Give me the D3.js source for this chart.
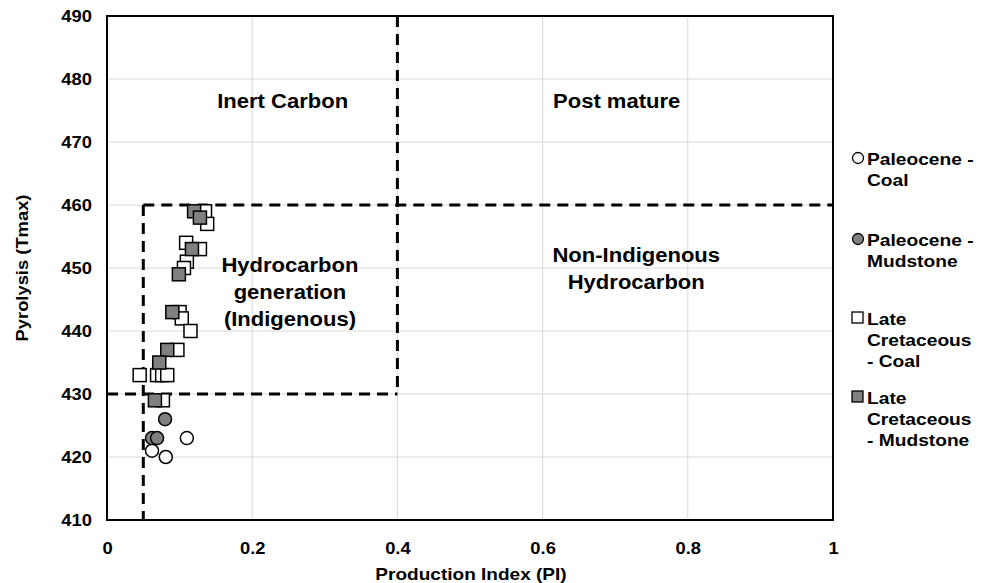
<!DOCTYPE html>
<html>
<head>
<meta charset="utf-8">
<script src="https://cdn.jsdelivr.net/npm/d3@7"></script>
<style>
  html, body { margin: 0; padding: 0; background: #fff; }
  svg { display: block; font-family: "Liberation Sans", Arial, sans-serif; font-weight: bold; }
</style>
</head>
<body>
<svg id="chart" width="987" height="583"></svg>
<script>
// Production Index (PI) vs Tmax for four sample groups
const paleoceneCoalPI   = [0.110, 0.062, 0.081];
const paleoceneCoalT    = [423, 421, 420];

const paleoceneMudPI    = [0.080, 0.062, 0.069];
const paleoceneMudT     = [426, 423, 423];

const cretCoalPI = [0.135, 0.138, 0.109, 0.128, 0.110, 0.106, 0.100, 0.103, 0.115, 0.097, 0.045, 0.069, 0.076, 0.083, 0.077];
const cretCoalT  = [459,   457,   454,   453,   451,   450,   443,   442,   440,   437,   433,   433,   433,   433,   429];

const cretMudPI  = [0.120, 0.128, 0.117, 0.099, 0.090, 0.083, 0.072, 0.066];
const cretMudT   = [459,   458,   453,   449,   443,   437,   435,   429];

const xTicks = [0, 0.2, 0.4, 0.6, 0.8, 1];
const yTicks = [410, 420, 430, 440, 450, 460, 470, 480, 490];

// Zone boundaries
const boundaryPI = [0.05, 0.4];
const boundaryT  = [430, 460];

const series = [
  { name: ["Paleocene -", "Coal"], shape: "circle", fill: "#ffffff", pi: paleoceneCoalPI, t: paleoceneCoalT },
  { name: ["Paleocene -", "Mudstone"], shape: "circle", fill: "#808080", pi: paleoceneMudPI, t: paleoceneMudT },
  { name: ["Late", "Cretaceous", "- Coal"], shape: "square", fill: "#ffffff", pi: cretCoalPI, t: cretCoalT },
  { name: ["Late", "Cretaceous", "- Mudstone"], shape: "square", fill: "#808080", pi: cretMudPI, t: cretMudT }
];

const svg = d3.select("#chart");
const margin = { left: 107, top: 16, right: 154, bottom: 63 };
const W = 987, H = 583;

const x = d3.scaleLinear().domain([0, 1]).range([margin.left, W - margin.right]);
const y = d3.scaleLinear().domain([410, 490]).range([H - margin.bottom, margin.top]);

// Text is set slightly wide, like the original chart's bold Arial
const wideText = (sel, fx, fy, sx) => sel.attr("transform", `translate(${fx},${fy}) scale(${sx},1)`);

// Light gridlines
svg.append("g").selectAll("line").data(yTicks).join("line")
  .attr("x1", x(0)).attr("x2", x(1))
  .attr("y1", d => y(d)).attr("y2", d => y(d))
  .attr("stroke", "#d9d9d9").attr("stroke-width", 1);
svg.append("g").selectAll("line").data(xTicks).join("line")
  .attr("y1", y(410)).attr("y2", y(490))
  .attr("x1", d => x(d)).attr("x2", d => x(d))
  .attr("stroke", "#d9d9d9").attr("stroke-width", 1);

// Axes
const xAxis = svg.append("g").attr("transform", `translate(0,${y(410)})`)
  .call(d3.axisBottom(x).tickValues(xTicks).tickSize(0).tickPadding(22).tickFormat(d3.format("")));
const yAxis = svg.append("g").attr("transform", `translate(${x(0)},0)`)
  .call(d3.axisLeft(y).tickValues(yTicks).tickSize(0).tickPadding(14));
[xAxis, yAxis].forEach(g => {
  g.select(".domain").remove();
  g.selectAll("text").attr("font-size", 17).attr("font-weight", "bold")
    .attr("font-family", "Liberation Sans, Arial, sans-serif").attr("fill", "#000")
    .attr("transform", "scale(1.08,1)");
});
yAxis.selectAll("text").attr("dy", "0.35em");

// Small inner tick at 430 on the y axis
svg.append("line").attr("x1", x(0)).attr("x2", x(0) + 5)
  .attr("y1", y(430)).attr("y2", y(430)).attr("stroke", "#000").attr("stroke-width", 2);

// Dashed zone boundaries
const dash = "11,7";
const dashed = [
  { x1: boundaryPI[0], x2: 1, y1: boundaryT[1], y2: boundaryT[1] },
  { x1: 0, x2: boundaryPI[1], y1: boundaryT[0], y2: boundaryT[0] },
  { x1: boundaryPI[1], x2: boundaryPI[1], y1: 490, y2: boundaryT[0] },
  { x1: boundaryPI[0], x2: boundaryPI[0], y1: boundaryT[1], y2: 410 }
];
svg.append("g").selectAll("line").data(dashed).join("line")
  .attr("x1", d => x(d.x1)).attr("x2", d => x(d.x2))
  .attr("y1", d => y(d.y1)).attr("y2", d => y(d.y2))
  .attr("stroke", "#000").attr("stroke-width", 3).attr("stroke-dasharray", dash);

// Plot frame
svg.append("rect").attr("x", x(0)).attr("y", y(490))
  .attr("width", x(1) - x(0)).attr("height", y(410) - y(490))
  .attr("fill", "none").attr("stroke", "#000").attr("stroke-width", 2);

// Zone labels
const zoneLabels = [
  { lines: ["Inert Carbon"], px: 0.242, t: 475.4 },
  { lines: ["Post mature"], px: 0.702, t: 475.4 },
  { lines: ["Hydrocarbon", "generation", "(Indigenous)"], px: 0.252, t: 449.4 },
  { lines: ["Non-Indigenous", "Hydrocarbon"], px: 0.729, t: 450.9 }
];
zoneLabels.forEach(z => {
  const tx = svg.append("text").attr("text-anchor", "middle")
    .attr("font-size", 19.5).attr("fill", "#000");
  wideText(tx, x(z.px), y(z.t), 1.13);
  z.lines.forEach((l, i) => {
    tx.append("tspan").attr("x", 0).attr("y", i * 27).text(l);
  });
});

// Markers
const size = 13;
series.forEach(s => {
  const pts = s.pi.map((p, i) => ({ p, t: s.t[i] }));
  const g = svg.append("g");
  if (s.shape === "circle") {
    g.selectAll("circle").data(pts).join("circle")
      .attr("cx", d => x(d.p)).attr("cy", d => y(d.t)).attr("r", size / 2)
      .attr("fill", s.fill).attr("stroke", "#000").attr("stroke-width", 1.5);
  } else {
    g.selectAll("rect").data(pts).join("rect")
      .attr("x", d => x(d.p) - size / 2).attr("y", d => y(d.t) - size / 2)
      .attr("width", size).attr("height", size)
      .attr("fill", s.fill).attr("stroke", "#000").attr("stroke-width", 1.5);
  }
});

// Axis titles
const xTitle = svg.append("text").attr("text-anchor", "middle").attr("font-size", 17)
  .text("Production Index (PI)");
wideText(xTitle, 471, 580, 1.12);
const yTitle = svg.append("text").attr("text-anchor", "middle").attr("font-size", 17)
  .text("Pyrolysis (Tmax)");
yTitle.attr("transform", `translate(28,${(y(410) + y(490)) / 2}) rotate(-90) scale(1.08,1)`);

// Legend
const legendTop = [159, 240, 319, 398];
const lg = svg.append("g");
series.forEach((s, i) => {
  const cy = legendTop[i];
  if (s.shape === "circle") {
    lg.append("circle").attr("cx", 858).attr("cy", cy - 1).attr("r", 5.5)
      .attr("fill", s.fill).attr("stroke", "#000").attr("stroke-width", 1.3);
  } else {
    lg.append("rect").attr("x", 852).attr("y", cy - 7).attr("width", 11).attr("height", 11)
      .attr("fill", s.fill).attr("stroke", "#000").attr("stroke-width", 1.3);
  }
  const t = lg.append("text").attr("font-size", 16).attr("fill", "#000");
  wideText(t, 867, cy + 6, 1.2);
  s.name.forEach((l, j) => {
    t.append("tspan").attr("x", 0).attr("y", j * 21).text(l);
  });
});
</script>
</body>
</html>
